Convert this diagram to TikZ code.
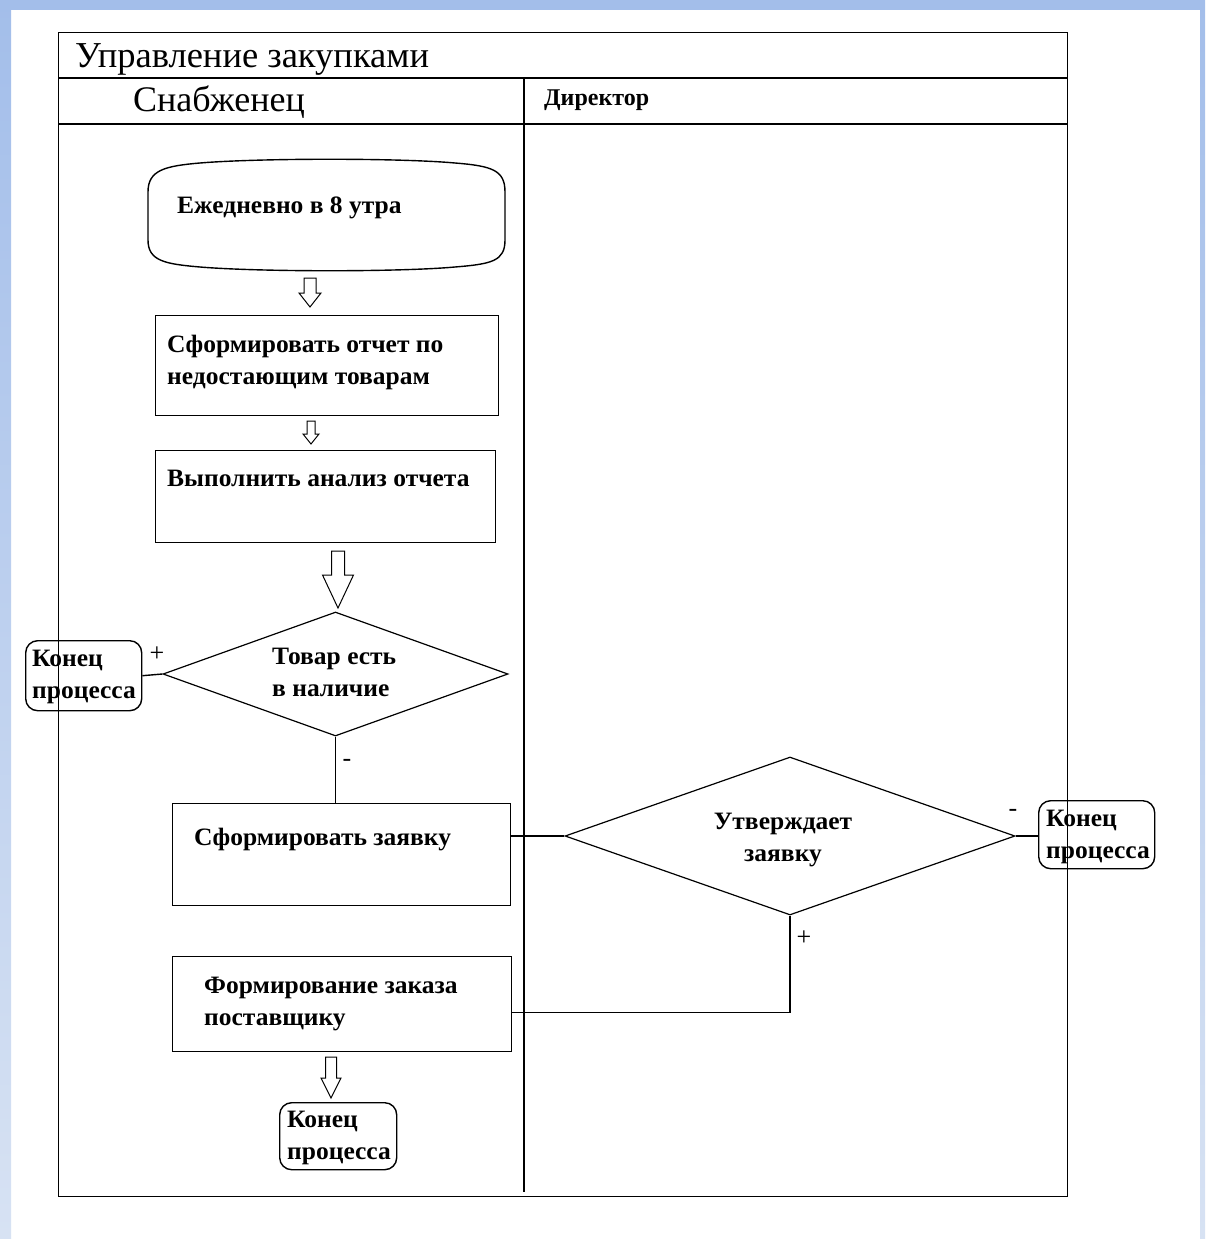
\documentclass[tikz,border=0pt]{standalone}
\usepackage{fontspec}
\setmainfont{Liberation Serif}
\newfontfamily\wideserif[FakeStretch=1.02]{Liberation Serif}
\usetikzlibrary{shapes.geometric,calc}
\definecolor{bgblue}{HTML}{A3BEEA}
\definecolor{bgblue2}{HTML}{D7E2F3}
\newcommand\blockarr[6]{\draw[barrow] (#1-#4,#2) -- (#1+#4,#2) -- (#1+#4,#3-#6) -- (#1+#5,#3-#6) -- (#1,#3) -- (#1-#5,#3-#6) -- (#1-#4,#3-#6) -- cycle;}
\begin{document}
\begin{tikzpicture}[x=1pt,y=-1pt,
 ln/.style={line width=1.4pt, draw=black},
 box/.style={draw=black, line width=1.4pt, rectangle, inner sep=0pt, anchor=north west},
 endbox/.style={box, rounded corners=12pt},
 dia/.style={draw=black, line width=1.2pt, diamond, inner sep=0pt},
 txt/.style={font=\fontsize{25}{32}\selectfont\wideserif\bfseries, anchor=base west, inner sep=0pt, align=left},
 hdr/.style={font=\fontsize{36}{36}\selectfont, anchor=base west, inner sep=0pt},
 sgn/.style={font=\fontsize{26}{26}\selectfont, inner sep=0pt},
 barrow/.style={draw=black, line width=1pt, fill=white}
]
\useasboundingbox (0,0) rectangle (1205,1239);
\fill[white] (0,0) rectangle (1205,1239);
\shade[top color=bgblue, bottom color=bgblue2] (0,0) rectangle (11,1239);
\shade[top color=bgblue, bottom color=bgblue2] (1200,0) rectangle (1205,1239);
\fill[bgblue] (0,0) rectangle (1205,10);

% frame
\node[box, minimum width=1009pt, minimum height=1164pt] (frame) at (58,32) {};
\draw[ln] (58,78) -- (1067,78);
\draw[ln] (58,124) -- (1067,124);
\draw[ln] (524,78) -- (524,1192);
\node[hdr, font=\fontsize{36.5}{36}\selectfont] (title) at (75,67) {Управление закупками};
\node[hdr] (lane1) at (133,111) {Снабженец};
\node[txt, font=\fontsize{24}{30}\selectfont\bfseries] (lane2) at (544,105) {Директор};

% start node (terminator with bowed top and bottom)
\node[inner sep=0pt, minimum width=357pt, minimum height=110pt, anchor=north west] (start) at (148,160) {};
\draw[ln] (148,192) .. controls (148,170) and (165,166) .. (200,163)
  .. controls (260,158) and (400,158) .. (455,163)
  .. controls (492,166) and (505,170) .. (505,192) -- (505,240)
  .. controls (505,261) and (492,264) .. (455,267)
  .. controls (400,272) and (260,272) .. (200,267)
  .. controls (165,264) and (148,261) .. (148,240) -- cycle;
\node[txt] (tstart) at (177,213) {Ежедневно в 8 утра};

\node[box, minimum width=343pt, minimum height=100pt] (b2) at (155,315) {};
\node[txt] (tb2) at (167,384) {Сформировать отчет по\\недостающим товарам};

\node[box, minimum width=340pt, minimum height=92pt] (b3) at (155,450) {};
\node[txt] (tb3) at (167,486) {Выполнить анализ отчета};

\node[dia, minimum width=345pt, minimum height=124pt] (d1) at (335.5,674) {};
\node[txt] (td1) at (272,696) {Товар есть\\в наличие};

\node[endbox, minimum width=116pt, minimum height=70pt] (e1) at (25,640) {};
\node[txt] (te1) at (32,698) {Конец\\процесса};

\node[box, minimum width=338pt, minimum height=102pt] (b4) at (172,803) {};
\node[txt] (tb4) at (194,845) {Сформировать заявку};

\node[dia, minimum width=450pt, minimum height=158pt] (d2) at (790,836) {};
\node[txt, anchor=base, align=center] (td2) at (783,861) {Утверждает\\заявку};

\node[endbox, minimum width=116pt, minimum height=68pt] (e2) at (1038,800) {};
\node[txt] (te2) at (1046,858) {Конец\\процесса};

\node[box, minimum width=339pt, minimum height=95pt] (b5) at (172,956) {};
\node[txt] (tb5) at (204,1025) {Формирование заказа\\поставщику};

\node[endbox, minimum width=117pt, minimum height=67pt] (e3) at (279,1102) {};
\node[txt] (te3) at (287,1159) {Конец\\процесса};

% block arrows
\blockarr{310}{278}{307}{6}{11}{14}
\blockarr{311}{421}{444}{4}{8}{10}
\blockarr{338}{551}{608}{6.5}{15.5}{33}
\blockarr{331}{1057}{1098}{5.5}{10}{20}

% connectors
\draw[ln] (e1.east) -- (d1.west);
\draw[ln] (d1.south) -- (d1.south |- b4.north);
\draw[ln] (d2.west) -- (d2.west -| b4.east);
\draw[ln] (d2.east) -- (d2.east -| e2.west);
\coordinate (bend) at ($(d2.south)+(0,97)$);
\draw[ln] (d2.south) -- (bend) -- (bend -| b5.east);

% signs
\node[sgn] (p1) at (157,654) {+};
\node[sgn] (m1) at (347,763) {-};
\node[sgn] (m2) at (1013,813) {-};
\node[sgn] (p2) at (804,938) {+};
\end{tikzpicture}
\end{document}
